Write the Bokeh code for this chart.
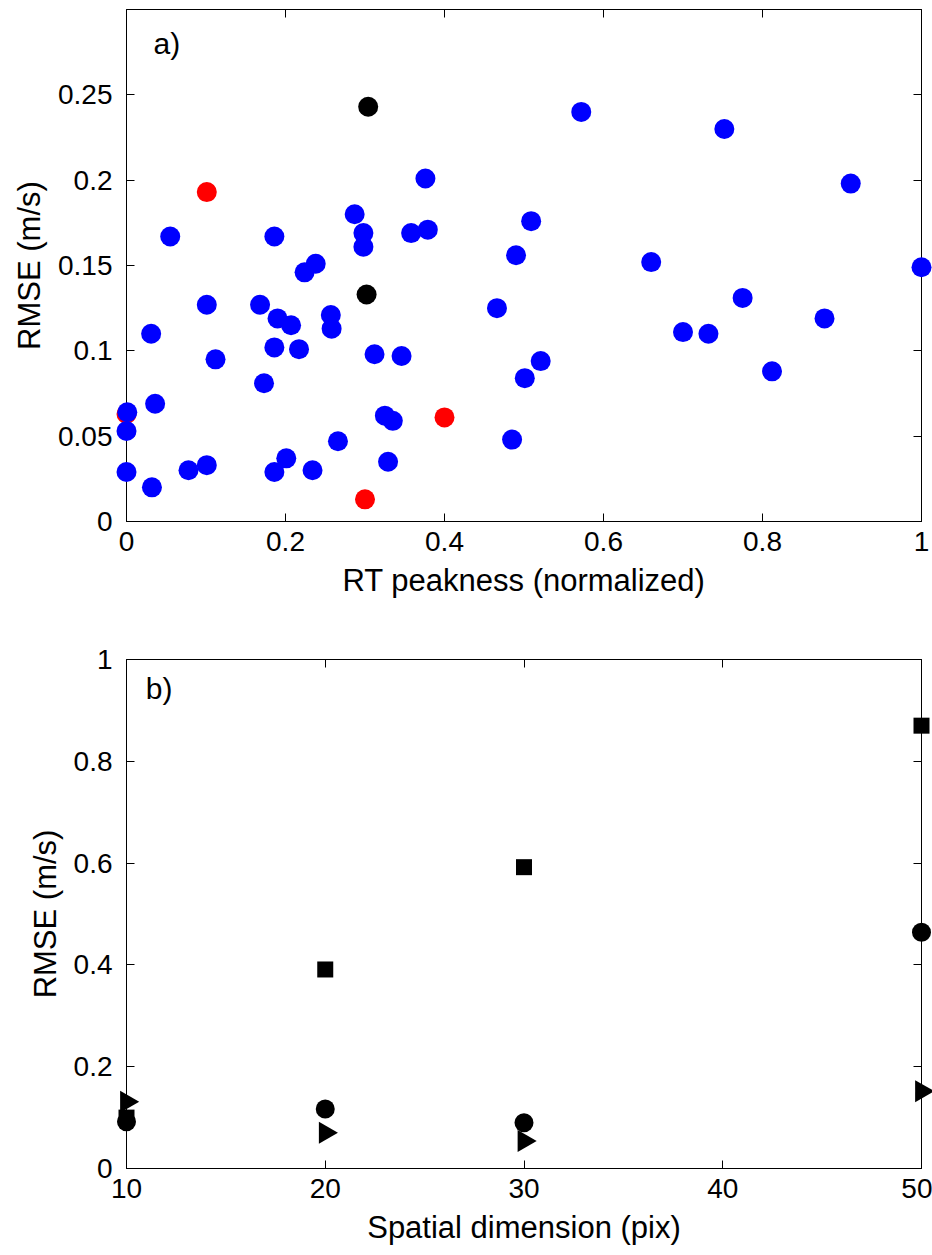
import math
from bokeh.plotting import figure
from bokeh.layouts import column
from bokeh.models import Range1d, LinearAxis, FixedTicker, Label
from bokeh.embed import file_html
from bokeh.resources import INLINE

# ---------------- Panel a data ----------------
blue_x = [0.055, 0.186, 0.287, 0.298, 0.298, 0.358, 0.379, 0.376, 0.224, 0.238,
          0.490, 0.509, 0.572, 0.752, 0.911, 0.660, 1.000, 0.775, 0.878, 0.700,
          0.732, 0.812, 0.521, 0.501, 0.485, 0.466, 0.101, 0.168, 0.190, 0.207,
          0.257, 0.258, 0.031, 0.186, 0.217, 0.112, 0.312, 0.346, 0.173, 0.036,
          0.001, 0.000, 0.325, 0.335, 0.266, 0.000, 0.078, 0.101, 0.186, 0.201,
          0.234, 0.329, 0.032]
blue_y = [0.167, 0.167, 0.180, 0.169, 0.161, 0.169, 0.171, 0.201, 0.146, 0.151,
          0.156, 0.176, 0.240, 0.230, 0.198, 0.152, 0.149, 0.131, 0.119, 0.111,
          0.110, 0.088, 0.094, 0.084, 0.048, 0.125, 0.127, 0.127, 0.119, 0.115,
          0.121, 0.113, 0.110, 0.102, 0.101, 0.095, 0.098, 0.097, 0.081, 0.069,
          0.064, 0.053, 0.062, 0.059, 0.047, 0.029, 0.030, 0.033, 0.029, 0.037,
          0.030, 0.035, 0.020]
red_x = [0.000, 0.101, 0.400, 0.300]
red_y = [0.063, 0.193, 0.061, 0.013]
black_x = [0.304, 0.302]
black_y = [0.243, 0.133]

a_xticks = [0, 0.2, 0.4, 0.6, 0.8, 1.0]
a_xlabels = ["0", "0.2", "0.4", "0.6", "0.8", "1"]
a_yticks = [0, 0.05, 0.1, 0.15, 0.2, 0.25]
a_ylabels = ["0", "0.05", "0.1", "0.15", "0.2", "0.25"]

# ---------------- Panel b data ----------------
dims = [10, 20, 30, 50]
rmse_square = [0.100, 0.391, 0.592, 0.870]
rmse_circle = [0.092, 0.117, 0.090, 0.464]
rmse_triangle = [0.131, 0.070, 0.054, 0.152]

b_xticks = [10, 20, 30, 40, 50]
b_xlabels = ["10", "20", "30", "40", "50"]
b_yticks = [0, 0.2, 0.4, 0.6, 0.8, 1.0]
b_ylabels = ["0", "0.2", "0.4", "0.6", "0.8", "1"]

FONT = "Liberation Sans"
TICK_FS = "28px"
LABEL_FS = "31px"


def style_main(p, xticks, xlabels, yticks, ylabels, xlabel, ylabel):
    p.xgrid.visible = False
    p.ygrid.visible = False
    p.outline_line_color = "black"
    p.outline_line_width = 1
    p.background_fill_color = "white"
    p.border_fill_color = "white"
    for ax, ticks, labels, lab in ((p.xaxis[0], xticks, xlabels, xlabel),
                                   (p.yaxis[0], yticks, ylabels, ylabel)):
        ax.ticker = FixedTicker(ticks=ticks)
        ax.major_label_overrides = {t: l for t, l in zip(ticks, labels)}
        ax.major_tick_in = 8
        ax.major_tick_out = 0
        ax.minor_tick_line_color = None
        ax.axis_line_color = "black"
        ax.major_tick_line_color = "black"
        ax.major_label_text_font = FONT
        ax.major_label_text_font_size = TICK_FS
        ax.major_label_text_color = "black"
        ax.axis_label = lab
        ax.axis_label_text_font = FONT
        ax.axis_label_text_font_size = LABEL_FS
        ax.axis_label_text_font_style = "normal"
        ax.axis_label_text_color = "black"
    p.xaxis[0].major_label_standoff = 10
    p.xaxis[0].axis_label_standoff = 9
    p.yaxis[0].major_label_standoff = 14
    p.yaxis[0].axis_label_standoff = 8
    # mirrored ticks (box on)
    for loc, ticks in (("right", yticks), ("above", xticks)):
        ax = LinearAxis(ticker=FixedTicker(ticks=ticks),
                        major_label_text_font_size="0px",
                        major_label_standoff=0,
                        major_tick_in=8, major_tick_out=0,
                        minor_tick_line_color=None,
                        axis_line_color="black",
                        major_tick_line_color="black")
        p.add_layout(ax, loc)


# ---------------- Panel a ----------------
p1 = figure(width=932, height=640, x_range=Range1d(0, 1), y_range=Range1d(0, 0.3),
            output_backend="svg", toolbar_location=None,
            min_border_left=126, min_border_right=11, min_border_top=9, min_border_bottom=119)
style_main(p1, a_xticks, a_xlabels, a_yticks, a_ylabels,
           "RT peakness (normalized)", "RMSE (m/s)")
for xs, ys, col in ((red_x, red_y, "#ff0000"), (blue_x, blue_y, "#0000ff"),
                    (black_x, black_y, "black")):
    r = p1.scatter(xs, ys, size=20, marker="circle", fill_color=col, line_color=None)
    r.level = "overlay"
p1.add_layout(Label(x=0.034, y=0.28, text="a)", text_font=FONT, text_font_size="30px",
                    text_baseline="middle", text_align="left", text_color="black"))

# ---------------- Panel b ----------------
p2 = figure(width=932, height=608, x_range=Range1d(10, 50), y_range=Range1d(0, 1),
            output_backend="svg", toolbar_location=None,
            min_border_left=126, min_border_right=11, min_border_top=19, min_border_bottom=80)
style_main(p2, b_xticks, b_xlabels, b_yticks, b_ylabels,
           "Spatial dimension (pix)", "RMSE (m/s)")
r1 = p2.scatter(dims, rmse_square, size=16, marker="square", fill_color="black", line_color=None)
r2 = p2.scatter(dims, rmse_circle, size=19, marker="circle", fill_color="black", line_color=None)
r3 = p2.scatter(dims, rmse_triangle, size=22, marker="triangle", angle=-math.pi / 2,
                fill_color="black", line_color=None)
for r in (r1, r2, r3):
    r.level = "overlay"
p2.add_layout(Label(x=10.97, y=0.944, text="b)", text_font=FONT, text_font_size="30px",
                    text_baseline="middle", text_align="left", text_color="black"))

layout = column(p1, p2, spacing=0)
open("out.html", "w").write(file_html(layout, INLINE))
